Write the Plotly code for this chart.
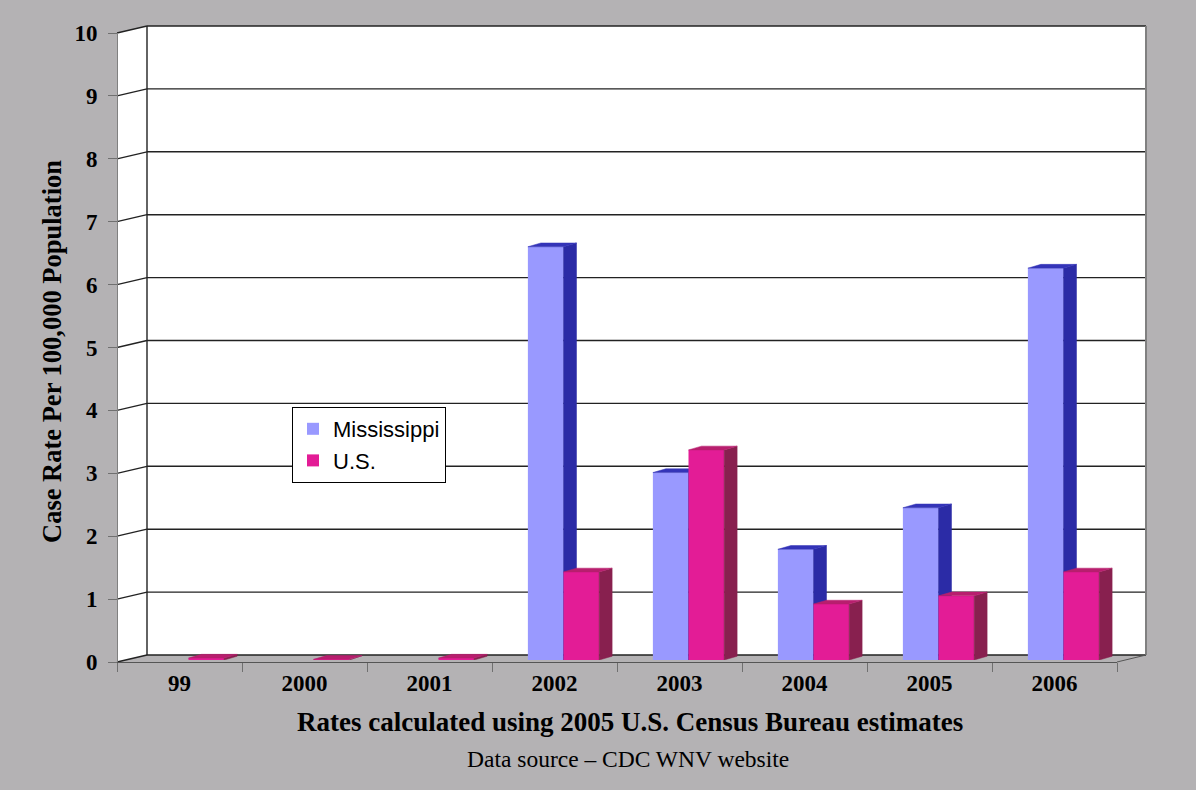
import plotly.graph_objects as go

# ---------------- data ----------------
years = ["99", "2000", "2001", "2002", "2003", "2004", "2005", "2006"]
mississippi = [0, 0, 0, 6.57, 2.98, 1.76, 2.42, 6.23]
us_rate = [0.03, 0.01, 0.03, 1.40, 3.34, 0.89, 1.02, 1.40]
y_ticks = list(range(0, 11))

# ---------------- geometry helpers (pixels -> paper) ----------------
W, H = 1196, 790
L, R, T, B = 117, 50, 26, 128
PW, PH = W - L - R, H - T - B


def xp(px):
    return (px - L) / PW


def yp(py):
    return (H - B - py) / PH


BG = "#B4B2B4"
MS_FRONT, MS_SIDE, MS_TOP = "#9999FF", "#2B2BA6", "#3434B8"
US_FRONT, US_SIDE, US_TOP = "#E31C96", "#88204F", "#B81E6E"
SERIF = "Liberation Serif"
SANS = "Liberation Sans"
CLEAR = "rgba(0,0,0,0)"
GRID = "#222222"

BAR_W = 0.285   # bar width in category units
DX = 0.104      # depth of the 3-D side face (x units)
DY = 0.06       # depth of the 3-D side face (y units)

fig = go.Figure()

# invisible trace so the category axis carries the year labels
fig.add_trace(go.Scatter(x=years, y=[0] * len(years), xaxis="x2", yaxis="y2",
                         mode="markers", marker=dict(opacity=0), showlegend=False,
                         hoverinfo="skip"))


def faces(values, left_off):
    sx, sy, tx, ty = [], [], [], []
    for i, v in enumerate(values):
        if v <= 0:
            continue
        x0 = i + left_off          # left edge of front face
        x1 = x0 + BAR_W            # right edge of front face
        sx += [x1, x1 + DX, x1 + DX, x1, x1, None]
        sy += [0, DY, v + DY, v, 0, None]
        tx += [x0, x0 + DX, x1 + DX, x1, x0, None]
        ty += [v, v + DY, v + DY, v, v, None]
    return sx, sy, tx, ty


idx = list(range(len(years)))

for name, vals, off, front, side, top, xa, ya in [
    ("Mississippi", mississippi, -BAR_W, MS_FRONT, MS_SIDE, MS_TOP, "x3", "y3"),
    ("U.S.", us_rate, 0.0, US_FRONT, US_SIDE, US_TOP, "x4", "y4"),
]:
    fig.add_trace(go.Bar(x=idx, y=vals, name=name, offset=off, width=BAR_W,
                         marker=dict(color=front, line=dict(width=0)),
                         xaxis=xa, yaxis=ya, hoverinfo="skip"))
    sx, sy, tx, ty = faces(vals, off)
    fig.add_trace(go.Scatter(x=sx, y=sy, fill="toself", fillcolor=side, mode="lines",
                             line=dict(width=0.5, color=side), xaxis=xa, yaxis=ya,
                             showlegend=False, hoverinfo="skip"))
    fig.add_trace(go.Scatter(x=tx, y=ty, fill="toself", fillcolor=top, mode="lines",
                             line=dict(width=0.5, color=top), xaxis=xa, yaxis=ya,
                             showlegend=False, hoverinfo="skip"))

# ---------------- shapes: 3-D walls ----------------
shapes = []
# back wall
shapes.append(dict(type="rect", xref="paper", yref="paper", x0=xp(147), x1=1,
                   y0=yp(655), y1=1, fillcolor="white", line=dict(width=0), layer="below"))
# left side wall
shapes.append(dict(type="path", xref="paper", yref="paper",
                   path=f"M {xp(117)},{yp(662)} L {xp(117)},{yp(33)} L {xp(147)},{yp(26)} "
                        f"L {xp(147)},{yp(655)} Z",
                   fillcolor="white", line=dict(width=0), layer="below"))
unit = (662 - 33) / 10
back_unit = (655 - 26) / 10
for v in y_ticks:
    # back-wall grid line at each tick
    shapes.append(dict(type="line", xref="paper", yref="paper", layer="below",
                       x0=xp(147), x1=1, y0=yp(655 - back_unit * v), y1=yp(655 - back_unit * v),
                       line=dict(color=GRID, width=1.4)))
    # slanted grid line on the side wall
    shapes.append(dict(type="line", xref="paper", yref="paper", layer="below",
                       x0=xp(117), y0=yp(662 - unit * v), x1=xp(147), y1=yp(655 - back_unit * v),
                       line=dict(color=GRID, width=1.3)))
# back wall borders
shapes.append(dict(type="line", xref="paper", yref="paper", x0=xp(147), x1=xp(147),
                   y0=yp(655), y1=1, line=dict(color=GRID, width=1.4), layer="below"))
shapes.append(dict(type="line", xref="paper", yref="paper", x0=1, x1=1,
                   y0=yp(655), y1=1, line=dict(color="#808080", width=2), layer="below"))
# floor right edge
shapes.append(dict(type="line", xref="paper", yref="paper", x0=xp(1117), x1=xp(1146),
                   y0=yp(662), y1=yp(655), line=dict(color="#555555", width=1), layer="below"))

tickfont = dict(family=SERIF, size=23, color="black", weight="bold")

fig.update_layout(
    width=W, height=H,
    margin=dict(l=L, r=R, t=T, b=B),
    paper_bgcolor=BG, plot_bgcolor=CLEAR,
    showlegend=True,
    barmode="overlay",
    shapes=shapes,
    xaxis2=dict(domain=[0, xp(1117)], anchor="y2", type="category",
                categoryorder="array", categoryarray=years, range=[-0.5, 7.5],
                tickson="boundaries", ticks="outside", ticklen=9, tickcolor="#707070",
                showline=True, linecolor="#555555", linewidth=1, showgrid=False,
                zeroline=False, tickfont=tickfont),
    yaxis2=dict(domain=[0, yp(33)], anchor="free", position=0,
                side="left", range=[0, 10], tickvals=y_ticks, ticks="outside",
                ticklen=9, tickcolor="#707070", showline=True, linecolor="#808080",
                showgrid=False, zeroline=False, ticklabelstandoff=6,
                tickfont=tickfont),
    xaxis3=dict(domain=[xp(126), xp(1126)], anchor="y3",
                range=[-0.5, 7.5], visible=False),
    yaxis3=dict(domain=[yp(660), yp(660 - unit * 10)], anchor="x3",
                range=[0, 10], visible=False),
    xaxis4=dict(domain=[xp(126), xp(1126)], anchor="y4",
                range=[-0.5, 7.5], visible=False),
    yaxis4=dict(domain=[yp(660), yp(660 - unit * 10)], anchor="x4",
                range=[0, 10], visible=False),
    legend=dict(x=xp(292), y=yp(407), xanchor="left", yanchor="top",
                bgcolor="white", bordercolor="black", borderwidth=1,
                font=dict(family=SANS, size=22, color="black"),
                itemwidth=30, traceorder="normal", tracegroupgap=0),
    annotations=[
        dict(text="<b>Case Rate Per 100,000 Population</b>", xref="paper", yref="paper",
             x=xp(52), y=yp(352), xanchor="center", yanchor="middle", textangle=-90,
             showarrow=False, font=dict(family=SERIF, size=26.5, color="black")),
        dict(text="<b>Rates calculated using 2005 U.S. Census Bureau estimates</b>",
             xref="paper", yref="paper", x=xp(630), y=yp(722), xanchor="center",
             yanchor="middle", showarrow=False,
             font=dict(family=SERIF, size=27, color="black")),
        dict(text="Data source \u2013 CDC WNV website", xref="paper", yref="paper",
             x=xp(628), y=yp(759), xanchor="center", yanchor="middle", showarrow=False,
             font=dict(family=SERIF, size=23.5, color="black")),
    ],
)

fig.write_html("out.html", config={"displayModeBar": False},
               post_script="document.body.style.margin='0';")
